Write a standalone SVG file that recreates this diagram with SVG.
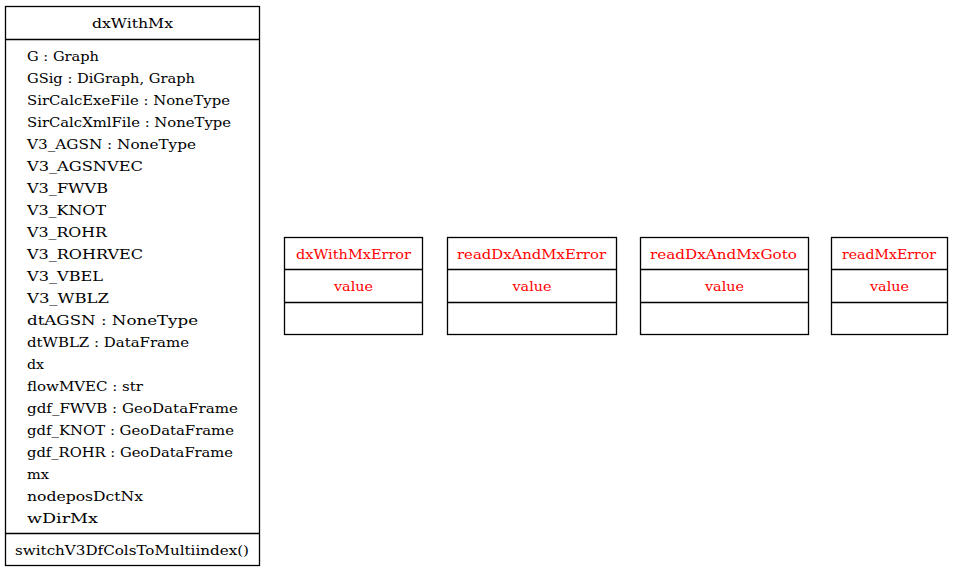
<svg xmlns="http://www.w3.org/2000/svg" width="953" height="572" viewBox="0 0 953 572">
  <style>
    .box { fill: #ffffff; stroke: #000000; stroke-width: 1.3; }
    .sep { stroke: #000000; stroke-width: 1.3; }
    text { font-family: 'DejaVu Serif', 'Liberation Serif', serif; font-size: 13px; fill: #000000; }
    .err text { fill: #ff0000; }
  </style>
  <rect width="953" height="572" fill="#ffffff"/>

  <!-- main class -->
  <g id="dxWithMx">
    <rect class="box" x="5.5" y="6.5" width="254" height="559"/>
    <line class="sep" x1="5.5" y1="39.5" x2="259.5" y2="39.5"/>
    <line class="sep" x1="5.5" y1="533.5" x2="259.5" y2="533.5"/>
    <text x="92" y="28" textLength="81" lengthAdjust="spacingAndGlyphs">dxWithMx</text>
    <text x="27" y="61" textLength="72" lengthAdjust="spacingAndGlyphs">G : Graph</text>
    <text x="27" y="83" textLength="168" lengthAdjust="spacingAndGlyphs">GSig : DiGraph, Graph</text>
    <text x="27" y="105" textLength="203" lengthAdjust="spacingAndGlyphs">SirCalcExeFile : NoneType</text>
    <text x="27" y="127" textLength="204" lengthAdjust="spacingAndGlyphs">SirCalcXmlFile : NoneType</text>
    <text x="27" y="149" textLength="169" lengthAdjust="spacingAndGlyphs">V3_AGSN : NoneType</text>
    <text x="27" y="171" textLength="116" lengthAdjust="spacingAndGlyphs">V3_AGSNVEC</text>
    <text x="27" y="193" textLength="81" lengthAdjust="spacingAndGlyphs">V3_FWVB</text>
    <text x="27" y="215" textLength="79" lengthAdjust="spacingAndGlyphs">V3_KNOT</text>
    <text x="27" y="237" textLength="80" lengthAdjust="spacingAndGlyphs">V3_ROHR</text>
    <text x="27" y="259" textLength="116" lengthAdjust="spacingAndGlyphs">V3_ROHRVEC</text>
    <text x="27" y="281" textLength="76" lengthAdjust="spacingAndGlyphs">V3_VBEL</text>
    <text x="27" y="303" textLength="82" lengthAdjust="spacingAndGlyphs">V3_WBLZ</text>
    <text x="27" y="325" textLength="171" lengthAdjust="spacingAndGlyphs">dtAGSN : NoneType</text>
    <text x="27" y="347" textLength="162" lengthAdjust="spacingAndGlyphs">dtWBLZ : DataFrame</text>
    <text x="27" y="369" textLength="17" lengthAdjust="spacingAndGlyphs">dx</text>
    <text x="27" y="391" textLength="116" lengthAdjust="spacingAndGlyphs">flowMVEC : str</text>
    <text x="27" y="413" textLength="211" lengthAdjust="spacingAndGlyphs">gdf_FWVB : GeoDataFrame</text>
    <text x="27" y="435" textLength="207" lengthAdjust="spacingAndGlyphs">gdf_KNOT : GeoDataFrame</text>
    <text x="27" y="457" textLength="206" lengthAdjust="spacingAndGlyphs">gdf_ROHR : GeoDataFrame</text>
    <text x="27" y="479" textLength="22" lengthAdjust="spacingAndGlyphs">mx</text>
    <text x="27" y="501" textLength="116" lengthAdjust="spacingAndGlyphs">nodeposDctNx</text>
    <text x="27" y="523" textLength="71" lengthAdjust="spacingAndGlyphs">wDirMx</text>
    <text x="15" y="555" textLength="234" lengthAdjust="spacingAndGlyphs">switchV3DfColsToMultiindex()</text>
  </g>

  <!-- exception classes -->
  <g id="dxWithMxError" class="err">
    <rect class="box" x="284.5" y="237.5" width="138" height="97"/>
    <line class="sep" x1="284.5" y1="269.5" x2="422.5" y2="269.5"/>
    <line class="sep" x1="284.5" y1="302.5" x2="422.5" y2="302.5"/>
    <text x="296" y="259" textLength="115" lengthAdjust="spacingAndGlyphs">dxWithMxError</text>
    <text x="334" y="291" textLength="39" lengthAdjust="spacingAndGlyphs">value</text>
  </g>

  <g id="readDxAndMxError" class="err">
    <rect class="box" x="447.5" y="237.5" width="169" height="97"/>
    <line class="sep" x1="447.5" y1="269.5" x2="616.5" y2="269.5"/>
    <line class="sep" x1="447.5" y1="302.5" x2="616.5" y2="302.5"/>
    <text x="457" y="259" textLength="149" lengthAdjust="spacingAndGlyphs">readDxAndMxError</text>
    <text x="512.5" y="291" textLength="39" lengthAdjust="spacingAndGlyphs">value</text>
  </g>

  <g id="readDxAndMxGoto" class="err">
    <rect class="box" x="640.5" y="237.5" width="168" height="97"/>
    <line class="sep" x1="640.5" y1="269.5" x2="808.5" y2="269.5"/>
    <line class="sep" x1="640.5" y1="302.5" x2="808.5" y2="302.5"/>
    <text x="650" y="259" textLength="147" lengthAdjust="spacingAndGlyphs">readDxAndMxGoto</text>
    <text x="705" y="291" textLength="39" lengthAdjust="spacingAndGlyphs">value</text>
  </g>

  <g id="readMxError" class="err">
    <rect class="box" x="831.5" y="237.5" width="116" height="97"/>
    <line class="sep" x1="831.5" y1="269.5" x2="947.5" y2="269.5"/>
    <line class="sep" x1="831.5" y1="302.5" x2="947.5" y2="302.5"/>
    <text x="842" y="259" textLength="94" lengthAdjust="spacingAndGlyphs">readMxError</text>
    <text x="870" y="291" textLength="39" lengthAdjust="spacingAndGlyphs">value</text>
  </g>

  <!-- no associations between these classes -->
  <g id="connectors"></g>
</svg>
